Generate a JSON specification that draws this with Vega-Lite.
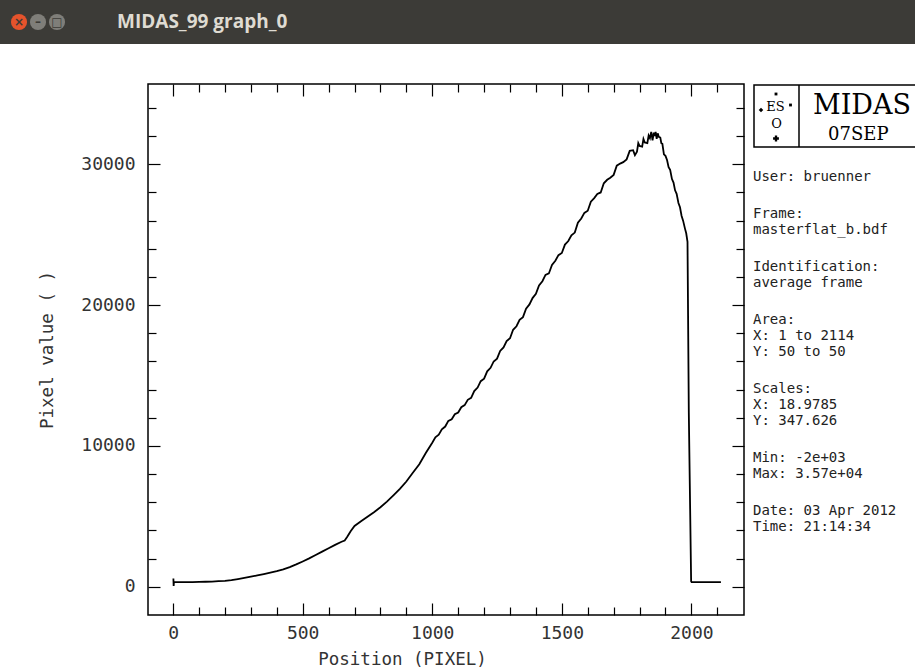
{
  "$schema": "https://vega.github.io/schema/vega-lite/v6.json",
  "padding": 0,
  "background": "white",
  "config": {"view": {"stroke": null}},
  "spacing": 38,
  "datasets": {
    "curve": [
      {"x":1,"y":590},{"x":2,"y":60},{"x":3,"y":330},{"x":25,"y":330},{"x":50,"y":335},{"x":75,"y":340},{"x":100,"y":345},{"x":125,"y":360},{"x":150,"y":375},{"x":175,"y":400},{"x":200,"y":430},{"x":225,"y":480},{"x":250,"y":550},{"x":275,"y":630},{"x":300,"y":720},{"x":325,"y":810},{"x":350,"y":900},{"x":375,"y":1000},{"x":400,"y":1110},{"x":425,"y":1240},{"x":450,"y":1400},{"x":475,"y":1590},{"x":500,"y":1800},{"x":525,"y":2020},{"x":550,"y":2260},{"x":575,"y":2500},{"x":600,"y":2740},{"x":625,"y":2980},{"x":650,"y":3200},{"x":662,"y":3290},{"x":672,"y":3550},{"x":685,"y":3950},{"x":700,"y":4320},{"x":725,"y":4650},{"x":750,"y":4980},{"x":775,"y":5300},{"x":800,"y":5650},{"x":825,"y":6050},{"x":850,"y":6500},{"x":875,"y":6950},{"x":900,"y":7480},{"x":925,"y":8100},{"x":950,"y":8700},{"x":975,"y":9500},
      {"x":1000,"y":10230},{"x":1012,"y":10620},{"x":1025,"y":10800},{"x":1037,"y":11180},{"x":1050,"y":11380},{"x":1062,"y":11780},{"x":1075,"y":11900},{"x":1087,"y":12250},{"x":1100,"y":12380},{"x":1112,"y":12750},{"x":1125,"y":12900},{"x":1137,"y":13280},{"x":1150,"y":13420},{"x":1162,"y":13900},{"x":1175,"y":14150},{"x":1187,"y":14600},{"x":1200,"y":14780},{"x":1212,"y":15300},{"x":1225,"y":15550},{"x":1237,"y":16000},{"x":1250,"y":16200},{"x":1262,"y":16750},{"x":1275,"y":17000},{"x":1287,"y":17450},{"x":1300,"y":17650},{"x":1312,"y":18250},{"x":1325,"y":18500},{"x":1337,"y":18950},{"x":1350,"y":19150},{"x":1362,"y":19750},{"x":1375,"y":20050},{"x":1387,"y":20500},{"x":1400,"y":20800},{"x":1412,"y":21400},{"x":1425,"y":21700},{"x":1437,"y":22150},{"x":1450,"y":22250},{"x":1462,"y":22850},{"x":1475,"y":23150},{"x":1487,"y":23550},{"x":1500,"y":23700},{"x":1512,"y":24300},{"x":1525,"y":24550},{"x":1537,"y":24950},{"x":1550,"y":25150},{"x":1562,"y":25850},{"x":1575,"y":26150},{"x":1587,"y":26550},{"x":1600,"y":26700},{"x":1612,"y":27350},{"x":1625,"y":27600},{"x":1637,"y":27900},{"x":1650,"y":28000},{"x":1662,"y":28650},{"x":1675,"y":28900},{"x":1687,"y":29050},{"x":1700,"y":29250},{"x":1712,"y":29900},{"x":1725,"y":30050},{"x":1737,"y":30150},{"x":1750,"y":30350},{"x":1762,"y":30950},{"x":1775,"y":31000},{"x":1782,"y":30650},{"x":1790,"y":30900},{"x":1795,"y":31500},{"x":1800,"y":31300},{"x":1810,"y":31250},{"x":1815,"y":31800},{"x":1820,"y":31550},{"x":1830,"y":31500},{"x":1835,"y":32050},{"x":1840,"y":31850},{"x":1845,"y":32300},{"x":1850,"y":31700},{"x":1855,"y":32250},{"x":1858,"y":32000},{"x":1862,"y":32300},{"x":1866,"y":31800},{"x":1870,"y":32200},{"x":1874,"y":31950},{"x":1880,"y":31900},{"x":1884,"y":31500},{"x":1888,"y":31450},{"x":1894,"y":30700},{"x":1900,"y":30600},{"x":1906,"y":30300},{"x":1912,"y":29800},{"x":1918,"y":29600},{"x":1925,"y":28950},{"x":1931,"y":28700},{"x":1937,"y":28150},{"x":1943,"y":27900},{"x":1950,"y":27250},{"x":1956,"y":26950},{"x":1962,"y":26350},{"x":1968,"y":26000},{"x":1975,"y":25450},{"x":1980,"y":25100},{"x":1985,"y":24500},{"x":1990,"y":12400},{"x":1999,"y":400},{"x":2001,"y":330},{"x":2114,"y":330}
    ],
    "info": [
      {"x":7,"y":93,"t":"User: bruenner"},
      {"x":7,"y":130,"t":"Frame:"},
      {"x":7,"y":146,"t":"masterflat_b.bdf"},
      {"x":7,"y":183,"t":"Identification:"},
      {"x":7,"y":199,"t":"average frame"},
      {"x":7,"y":236,"t":"Area:"},
      {"x":7,"y":252,"t":"X: 1 to 2114"},
      {"x":7,"y":268,"t":"Y: 50 to 50"},
      {"x":7,"y":305,"t":"Scales:"},
      {"x":7,"y":321,"t":"X: 18.9785"},
      {"x":7,"y":337,"t":"Y: 347.626"},
      {"x":7,"y":374,"t":"Min: -2e+03"},
      {"x":7,"y":390,"t":"Max: 3.57e+04"},
      {"x":7,"y":427,"t":"Date: 03 Apr 2012"},
      {"x":7,"y":443,"t":"Time: 21:14:34"}
    ]
  },
  "vconcat": [
    {
      "width": 915,
      "height": 44,
      "view": {"fill": "#3c3b37", "stroke": null},
      "layer": [
        {
          "data": {"values": [{"x":19,"y":22,"c":"close"},{"x":38,"y":22,"c":"min"},{"x":57,"y":22,"c":"max"}]},
          "mark": {"type": "point", "filled": true, "shape": "circle", "size": 260, "opacity": 1},
          "encoding": {
            "x": {"field": "x", "type": "quantitative", "scale": {"domain": [0, 915]}, "axis": null},
            "y": {"field": "y", "type": "quantitative", "scale": {"domain": [0, 44], "reverse": true}, "axis": null},
            "color": {"field": "c", "type": "nominal", "scale": {"domain": ["close","min","max"], "range": ["#e5532c","#7f7e79","#7f7e79"]}, "legend": null}
          }
        },
        {
          "data": {"values": [{"x":19,"y":22,"g":"×"},{"x":38,"y":22,"g":"–"},{"x":57,"y":22,"g":"□"}]},
          "mark": {"type": "text", "font": "DejaVu Sans", "fontWeight": "bold", "fontSize": 12, "color": "#3c3b37", "baseline": "middle", "align": "center"},
          "encoding": {
            "x": {"field": "x", "type": "quantitative", "scale": {"domain": [0, 915]}, "axis": null},
            "y": {"field": "y", "type": "quantitative", "scale": {"domain": [0, 44], "reverse": true}, "axis": null},
            "text": {"field": "g"}
          }
        },
        {
          "data": {"values": [{"x":117,"y":22,"t":"MIDAS_99 graph_0"}]},
          "mark": {"type": "text", "font": "Open Sans", "fontWeight": "bold", "fontSize": 19, "color": "#dfdbd2", "baseline": "middle", "align": "left"},
          "encoding": {
            "x": {"field": "x", "type": "quantitative", "scale": {"domain": [0, 915]}, "axis": null},
            "y": {"field": "y", "type": "quantitative", "scale": {"domain": [0, 44], "reverse": true}, "axis": null},
            "text": {"field": "t"}
          }
        }
      ]
    },
    {
      "spacing": 0,
      "hconcat": [
        {
          "width": 38,
          "height": 10,
          "view": {"stroke": null},
          "data": {"values": [{"t": ""}]},
          "mark": {"type": "text"},
          "encoding": {"text": {"field": "t"}}
        },
        {
          "width": 596,
          "height": 531,
          "view": {"stroke": "black", "strokeWidth": 1.5},
          "data": {"name": "curve"},
          "resolve": {"axis": {"x": "independent", "y": "independent"}},
          "layer": [
            {
              "mark": {"type": "line", "color": "black", "strokeWidth": 1.8},
              "encoding": {
                "x": {"field": "x", "type": "quantitative", "scale": {"domain": [-97, 2203], "nice": false, "zero": false},
                  "axis": {"orient": "bottom", "values": [0,100,200,300,400,500,600,700,800,900,1000,1100,1200,1300,1400,1500,1600,1700,1800,1900,2000,2100],
                    "domain": false, "grid": false, "tickColor": "black", "tickWidth": 1.2,
                    "tickSize": {"condition": {"test": "datum.value % 500 === 0", "value": -12}, "value": -8},
                    "format": "d", "labelExpr": "datum.value % 500 === 0 ? datum.label : ''",
                    "labelFont": "DejaVu Sans Mono", "labelFontSize": 18, "labelColor": "#333", "labelPadding": 21, "labelOverlap": false, "labelFlush": false,
                    "title": "Position (PIXEL)", "titleFont": "DejaVu Sans Mono", "titleFontSize": 17.5, "titleFontWeight": "normal", "titleColor": "#333", "titlePadding": 4, "titleX": 254, "titleAlign": "center"}},
                "y": {"field": "y", "type": "quantitative", "scale": {"domain": [-2000, 35700], "nice": false, "zero": false},
                  "axis": {"orient": "left", "values": [0,2000,4000,6000,8000,10000,12000,14000,16000,18000,20000,22000,24000,26000,28000,30000,32000,34000],
                    "domain": false, "grid": false, "tickColor": "black", "tickWidth": 1.2,
                    "tickSize": {"condition": {"test": "datum.value % 10000 === 0", "value": -12}, "value": -8},
                    "format": "d", "labelExpr": "datum.value % 10000 === 0 ? datum.label : ''",
                    "labelFont": "DejaVu Sans Mono", "labelFontSize": 18, "labelColor": "#333", "labelPadding": 25, "labelOverlap": false, "labelFlush": false,
                    "title": "Pixel value ( )", "titleFont": "DejaVu Sans Mono", "titleFontSize": 17.5, "titleFontWeight": "normal", "titleColor": "#333", "titlePadding": 24}}
              }
            },
            {
              "mark": {"type": "line", "opacity": 0},
              "encoding": {
                "x": {"field": "x", "type": "quantitative", "scale": {"domain": [-97, 2203], "nice": false, "zero": false},
                  "axis": {"orient": "top", "values": [0,100,200,300,400,500,600,700,800,900,1000,1100,1200,1300,1400,1500,1600,1700,1800,1900,2000,2100],
                    "domain": false, "grid": false, "labels": false, "title": null, "tickColor": "black", "tickWidth": 1.2,
                    "tickSize": {"condition": {"test": "datum.value % 500 === 0", "value": -12}, "value": -8}}},
                "y": {"field": "y", "type": "quantitative", "scale": {"domain": [-2000, 35700], "nice": false, "zero": false},
                  "axis": {"orient": "right", "values": [0,2000,4000,6000,8000,10000,12000,14000,16000,18000,20000,22000,24000,26000,28000,30000,32000,34000],
                    "domain": false, "grid": false, "labels": false, "title": null, "tickColor": "black", "tickWidth": 1.2,
                    "tickSize": {"condition": {"test": "datum.value % 10000 === 0", "value": -12}, "value": -8}}}
              }
            }
          ]
        },
        {
          "width": 172,
          "height": 531,
          "view": {"stroke": null},
          "layer": [
            {
              "data": {"values": [{"x": 8, "x2": 260, "y": 1, "y2": 63}]},
              "mark": {"type": "rect", "fill": null, "filled": false, "stroke": "black", "strokeWidth": 1.5, "clip": true},
              "encoding": {
                "x": {"field": "x", "type": "quantitative", "scale": {"domain": [0, 172]}, "axis": null},
                "x2": {"field": "x2"},
                "y": {"field": "y", "type": "quantitative", "scale": {"domain": [0, 531], "reverse": true}, "axis": null},
                "y2": {"field": "y2"}
              }
            },
            {
              "data": {"values": [{"x": 53, "y": 1, "y2": 63}]},
              "mark": {"type": "rule", "color": "black", "strokeWidth": 1.5},
              "encoding": {
                "x": {"field": "x", "type": "quantitative", "scale": {"domain": [0, 172]}, "axis": null},
                "y": {"field": "y", "type": "quantitative", "scale": {"domain": [0, 531], "reverse": true}, "axis": null},
                "y2": {"field": "y2"}
              }
            },
            {
              "data": {"values": [{"x": 67, "y": 22, "t": "MIDAS"}]},
              "mark": {"type": "text", "font": "DejaVu Serif", "fontSize": 27, "color": "black", "align": "left", "baseline": "middle", "clip": true},
              "encoding": {
                "x": {"field": "x", "type": "quantitative", "scale": {"domain": [0, 172]}, "axis": null},
                "y": {"field": "y", "type": "quantitative", "scale": {"domain": [0, 531], "reverse": true}, "axis": null},
                "text": {"field": "t"}
              }
            },
            {
              "data": {"values": [{"x": 82, "y": 51, "t": "07SEP"}]},
              "mark": {"type": "text", "font": "DejaVu Serif", "fontSize": 18, "color": "black", "align": "left", "baseline": "middle", "clip": true},
              "encoding": {
                "x": {"field": "x", "type": "quantitative", "scale": {"domain": [0, 172]}, "axis": null},
                "y": {"field": "y", "type": "quantitative", "scale": {"domain": [0, 531], "reverse": true}, "axis": null},
                "text": {"field": "t"}
              }
            },
            {
              "data": {"values": [{"x": 29.5, "y": 23, "t": "ES"}, {"x": 30.5, "y": 39.5, "t": "O"}]},
              "mark": {"type": "text", "font": "DejaVu Serif", "fontSize": 13, "color": "black", "align": "center", "baseline": "middle"},
              "encoding": {
                "x": {"field": "x", "type": "quantitative", "scale": {"domain": [0, 172]}, "axis": null},
                "y": {"field": "y", "type": "quantitative", "scale": {"domain": [0, 531], "reverse": true}, "axis": null},
                "text": {"field": "t"}
              }
            },
            {
              "data": {"values": [{"x": 30, "y": 10, "s": "dot"}, {"x": 15, "y": 26, "s": "diamond"}, {"x": 44.5, "y": 21, "s": "dot"}, {"x": 30, "y": 54.5, "s": "cross"}]},
              "mark": {"type": "point", "filled": true, "color": "black", "opacity": 1},
              "encoding": {
                "x": {"field": "x", "type": "quantitative", "scale": {"domain": [0, 172]}, "axis": null},
                "y": {"field": "y", "type": "quantitative", "scale": {"domain": [0, 531], "reverse": true}, "axis": null},
                "shape": {"field": "s", "type": "nominal", "scale": {"domain": ["dot","diamond","cross"], "range": ["square","diamond","cross"]}, "legend": null},
                "size": {"field": "s", "type": "nominal", "scale": {"domain": ["dot","diamond","cross"], "range": [8, 34, 44]}, "legend": null}
              }
            },
            {
              "data": {"name": "info"},
              "mark": {"type": "text", "font": "DejaVu Sans Mono", "fontSize": 14, "color": "#222", "align": "left", "baseline": "middle"},
              "encoding": {
                "x": {"field": "x", "type": "quantitative", "scale": {"domain": [0, 172]}, "axis": null},
                "y": {"field": "y", "type": "quantitative", "scale": {"domain": [0, 531], "reverse": true}, "axis": null},
                "text": {"field": "t"}
              }
            }
          ]
        }
      ]
    }
  ]
}
